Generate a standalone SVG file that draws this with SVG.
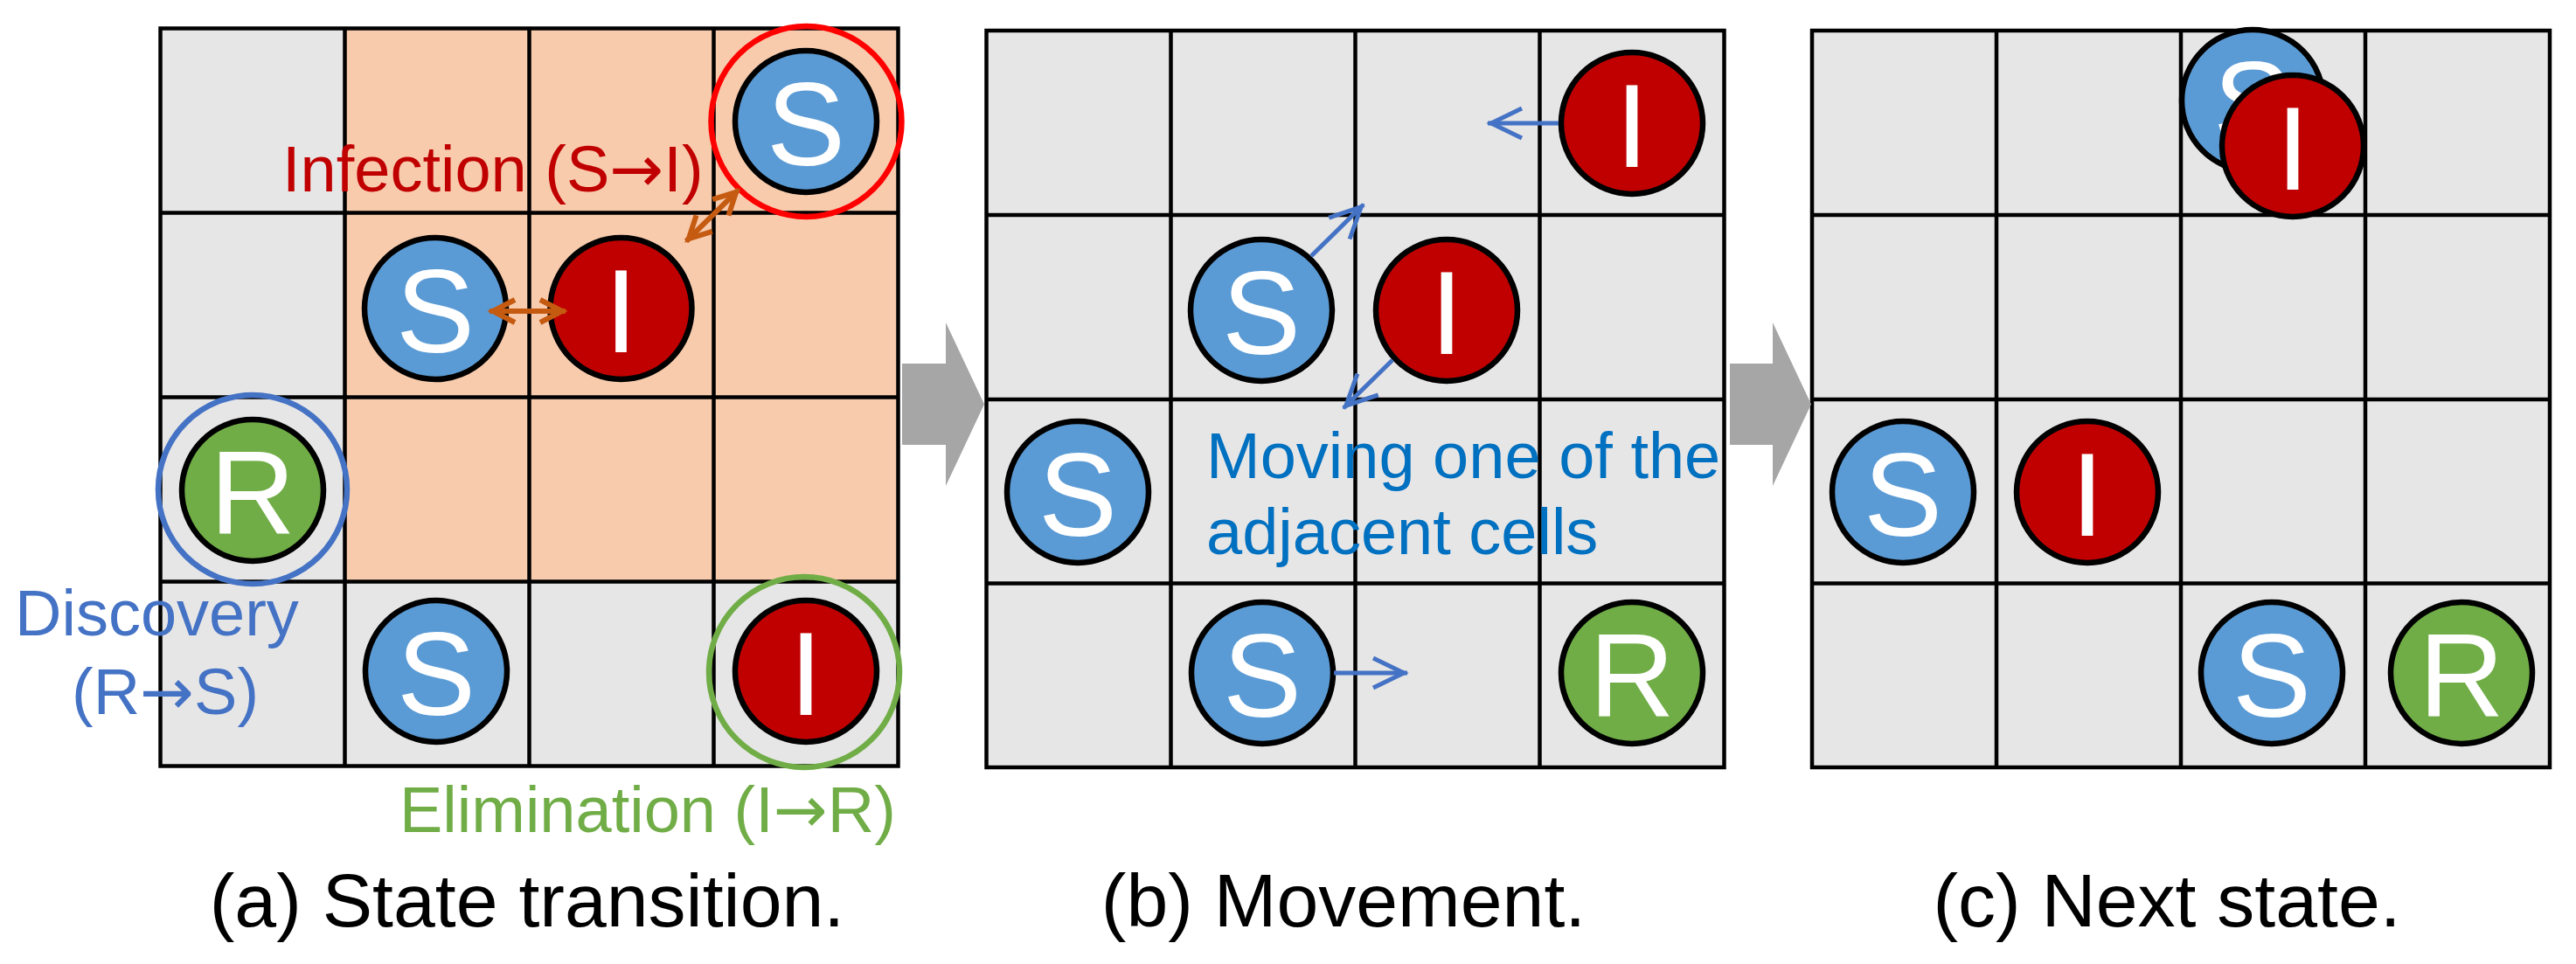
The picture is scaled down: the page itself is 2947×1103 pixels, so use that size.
<svg xmlns="http://www.w3.org/2000/svg" width="2947" height="1103" viewBox="0 0 2947 1103">
<style>
.bg{fill:#E7E6E6}
.or{fill:#F8CBAD}
.grid{fill:none;stroke:#000;stroke-width:4.5}
.node{stroke:#000;stroke-width:6.5}
.s{fill:#5B9BD5}
.i{fill:#C00000}
.r{fill:#70AD47}
.lt{font-family:"Liberation Sans",Arial,sans-serif;font-size:135px;fill:#fff;text-anchor:middle}
.lbl{font-family:"Liberation Sans",Arial,sans-serif;font-size:74px}
.arr{font-family:"DejaVu Sans",sans-serif}
.cap{font-family:"Liberation Sans",Arial,sans-serif;font-size:86px;fill:#000;text-anchor:middle}
.ring{fill:none;stroke-width:6.5}
.mv{stroke:#4472C4;stroke-width:5;fill:none}
.inf{stroke:#C55A11;stroke-width:6;fill:none}
.big{fill:#A6A6A6}
</style>
<defs>
<marker id="hb" markerUnits="userSpaceOnUse" orient="auto" refX="0" refY="0" markerWidth="60" markerHeight="60" overflow="visible">
<path d="M-39,-17 L-4,0 L-39,17" fill="none" stroke="#4472C4" stroke-width="5"/>
</marker>
<marker id="ho" markerUnits="userSpaceOnUse" orient="auto-start-reverse" refX="0" refY="0" markerWidth="60" markerHeight="60" overflow="visible">
<path d="M-29,-13 L-4,0 L-29,13" fill="none" stroke="#C55A11" stroke-width="6"/>
</marker>
</defs>
<rect width="2947" height="1103" fill="#fff"/>

<g id="grid-a">
<rect class="bg" x="183.5" y="32.5" width="844" height="844"/>
<rect class="or" x="394.5" y="32.5" width="633" height="633"/>
<path class="grid" d="M183.5,32.5H1027.5V876.5H183.5Z M394.5,32.5V876.5 M605.5,32.5V876.5 M816.5,32.5V876.5 M183.5,243.5H1027.5 M183.5,454.5H1027.5 M183.5,665.5H1027.5"/>
</g>
<g id="grid-b">
<rect class="bg" x="1128.5" y="35" width="844" height="843"/>
<path class="grid" d="M1128.5,35H1972.5V878H1128.5Z M1339.5,35V878 M1550.5,35V878 M1761.5,35V878 M1128.5,246H1972.5 M1128.5,457H1972.5 M1128.5,667.5H1972.5"/>
</g>
<g id="grid-c">
<rect class="bg" x="2073" y="35" width="844" height="843"/>
<path class="grid" d="M2073,35H2917V878H2073Z M2284,35V878 M2495,35V878 M2706,35V878 M2073,246H2917 M2073,457H2917 M2073,667.5H2917"/>
</g>

<g id="step-arrows">
<polygon class="big" points="1032,416 1082,416 1082,369 1126,462.5 1082,556 1082,509 1032,509"/>
<polygon class="big" points="1979,416 2028,416 2028,369 2072,462.5 2028,556 2028,509 1979,509"/>
</g>

<g id="a-s1"><circle class="node s" cx="922" cy="139" r="81"/><text class="lt" x="922" y="189">S</text></g>
<g id="a-s2"><circle class="node s" cx="498" cy="353" r="81"/><text class="lt" x="498" y="403">S</text></g>
<g id="a-i1"><circle class="node i" cx="710.5" cy="353" r="81"/><text class="lt" x="710.5" y="403">I</text></g>
<g id="a-r1"><circle class="node r" cx="289" cy="561" r="81"/><text class="lt" x="289" y="611">R</text></g>
<g id="a-s3"><circle class="node s" cx="499" cy="768" r="81"/><text class="lt" x="499" y="818">S</text></g>
<g id="a-i2"><circle class="node i" cx="922" cy="768" r="81"/><text class="lt" x="922" y="818">I</text></g>
<g id="a-rings">
<circle class="ring" stroke="#FF0000" cx="922.5" cy="139" r="109"/>
<circle class="ring" stroke="#4472C4" cx="289" cy="560" r="108"/>
<circle class="ring" stroke="#70AD47" cx="920" cy="769" r="109"/>
</g>

<g id="b-i1"><circle class="node i" cx="1867" cy="141" r="81"/><text class="lt" x="1867" y="191">I</text></g>
<g id="b-s1"><circle class="node s" cx="1443" cy="355" r="81"/><text class="lt" x="1443" y="405">S</text></g>
<g id="b-i2"><circle class="node i" cx="1655" cy="355" r="81"/><text class="lt" x="1655" y="405">I</text></g>
<g id="b-s2"><circle class="node s" cx="1233" cy="563" r="81"/><text class="lt" x="1233" y="613">S</text></g>
<g id="b-s3"><circle class="node s" cx="1444" cy="770" r="81"/><text class="lt" x="1444" y="820">S</text></g>
<g id="b-r1"><circle class="node r" cx="1867" cy="770" r="81"/><text class="lt" x="1867" y="820">R</text></g>

<g id="c-s1"><circle class="node s" cx="2577" cy="115" r="81"/><text class="lt" x="2577" y="165">S</text></g>
<g id="c-i1"><circle class="node i" cx="2623" cy="167" r="81"/><text class="lt" x="2623" y="217">I</text></g>
<g id="c-s2"><circle class="node s" cx="2177" cy="563" r="81"/><text class="lt" x="2177" y="613">S</text></g>
<g id="c-i2"><circle class="node i" cx="2388" cy="563" r="81"/><text class="lt" x="2388" y="613">I</text></g>
<g id="c-s3"><circle class="node s" cx="2599" cy="770" r="81"/><text class="lt" x="2599" y="820">S</text></g>
<g id="c-r1"><circle class="node r" cx="2816" cy="770" r="81"/><text class="lt" x="2816" y="820">R</text></g>

<g id="connectors">
<line class="inf" x1="560" y1="356" x2="647" y2="356" marker-start="url(#ho)" marker-end="url(#ho)"/>
<line class="inf" x1="785" y1="276" x2="845" y2="217" marker-start="url(#ho)" marker-end="url(#ho)"/>
<line class="mv" x1="1783" y1="141" x2="1702" y2="141" marker-end="url(#hb)"/>
<line class="mv" x1="1500" y1="293" x2="1560" y2="234" marker-end="url(#hb)"/>
<line class="mv" x1="1593" y1="412" x2="1537" y2="467" marker-end="url(#hb)"/>
<line class="mv" x1="1526" y1="770" x2="1610" y2="770" marker-end="url(#hb)"/>
</g>

<g id="labels">
<text class="lbl" fill="#C00000" x="323" y="219">Infection (S<tspan class="arr">→</tspan>I)</text>
<text class="lbl" fill="#4472C4" x="17" y="727">Discovery</text>
<text class="lbl" fill="#4472C4" x="82" y="817">(R<tspan class="arr">→</tspan>S)</text>
<text class="lbl" fill="#70AD47" x="457" y="952">Elimination (I<tspan class="arr">→</tspan>R)</text>
<text class="lbl" fill="#0070C0" x="1380" y="547">Moving one of the</text>
<text class="lbl" fill="#0070C0" x="1380" y="634">adjacent cells</text>
</g>
<g id="captions">
<text class="cap" x="603" y="1060">(a) State transition.</text>
<text class="cap" x="1537" y="1060">(b) Movement.</text>
<text class="cap" x="2479" y="1060">(c) Next state.</text>
</g>
</svg>
